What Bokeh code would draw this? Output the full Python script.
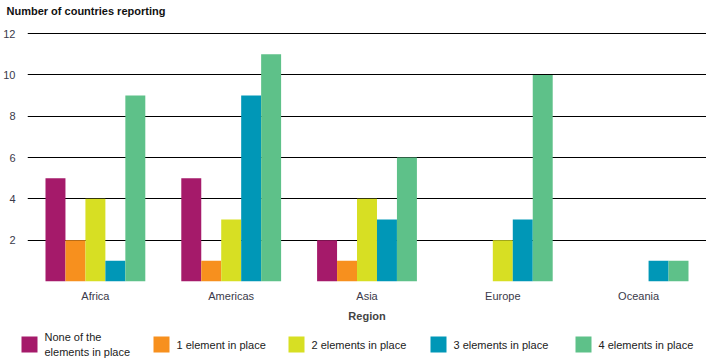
from bokeh.plotting import figure
from bokeh.layouts import column, row
from bokeh.models import ColumnDataSource, FixedTicker
from bokeh.core.properties import value
from bokeh.transform import dodge
from bokeh.embed import file_html
from bokeh.resources import INLINE

regions = ["Africa", "Americas", "Asia", "Europe", "Oceania"]
none_of = [5, 5, 2, 0, 0]
one_el = [2, 1, 1, 0, 0]
two_el = [4, 3, 4, 2, 0]
three_el = [1, 9, 3, 3, 1]
four_el = [9, 11, 6, 10, 1]
series_labels = ["None of the\nelements in place", "1 element in place", "2 elements in place",
                 "3 elements in place", "4 elements in place"]
y_ticks = [0, 2, 4, 6, 8, 10, 12]
title_text = "Number of countries reporting"

colors = ["#A51A6A", "#F7901E", "#D7DF23", "#0097B7", "#5EC189"]
keys = ["s0", "s1", "s2", "s3", "s4"]
src = ColumnDataSource(dict(region=regions, s0=none_of, s1=one_el, s2=two_el, s3=three_el, s4=four_el))

FONT = "Liberation Sans"
W = 706

# title strip
TH = 22
tf = figure(x_range=(0, W), y_range=(0, TH), width=W, height=TH,
            x_axis_location=None, y_axis_location=None,
            output_backend="svg", toolbar_location=None, min_border=0)
tf.grid.visible = False
tf.outline_line_color = None
tf.text(x=[6], y=[TH - 10], text=[title_text], text_font=value(FONT), text_font_size="11px",
        text_font_style="bold", text_color="#111111", text_baseline="middle", text_align="left")

# main chart
p = figure(x_range=regions, y_range=(0, 12.1), width=W, height=325 - TH,
           output_backend="svg", toolbar_location=None)
p.min_border_left = 24
p.min_border_right = 0
p.min_border_top = 9
p.min_border_bottom = 44
p.outline_line_color = None

bw = 0.147
for i, (k, c) in enumerate(zip(keys, colors)):
    p.vbar(x=dodge("region", (i - 2) * bw, range=p.x_range), top=k, width=bw,
           source=src, fill_color=c, line_color=None)

p.xgrid.grid_line_color = None
p.ygrid.grid_line_color = "#000000"
p.ygrid.grid_line_width = 1
p.yaxis.ticker = FixedTicker(ticks=y_ticks)
p.yaxis.major_label_overrides = {0: ""}
for ax in (p.xaxis, p.yaxis):
    ax.axis_line_color = None
    ax.major_tick_line_color = None
    ax.minor_tick_line_color = None
    ax.major_label_text_font = FONT
    ax.major_label_text_font_size = "11px"
    ax.major_label_text_color = "#3a3a4a"
p.yaxis.major_label_standoff = 6
p.xaxis.major_label_standoff = 2
p.xaxis.axis_label = "Region"
p.xaxis.axis_label_text_font = FONT
p.xaxis.axis_label_text_font_size = "11px"
p.xaxis.axis_label_text_font_style = "bold"
p.xaxis.axis_label_standoff = 5
p.x_range.range_padding = 0

# legend drawn as a separate strip below the chart
LH = 39
lg = figure(x_range=(0, W), y_range=(0, LH), width=W, height=LH,
            x_axis_location=None, y_axis_location=None,
            output_backend="svg", toolbar_location=None, min_border=0)
lg.grid.visible = False
lg.outline_line_color = None
item_x = [29, 161, 296, 438, 583]
cy = LH - 19
lsrc = ColumnDataSource(dict(x=item_x, tx=[x + 15 for x in item_x], y=[cy] * 5,
                             c=colors, label=series_labels))
lg.rect(x="x", y="y", width=16, height=16, source=lsrc, fill_color="c", line_color=None)
lg.text(x="tx", y="y", text="label", source=lsrc, text_font=value(FONT), text_font_size="11px",
        text_color="#222222", text_baseline="middle", text_align="left", text_line_height=1.27)

layout = column(row(tf), p, row(lg), spacing=0)
open("out.html", "w").write(file_html(layout, INLINE))
